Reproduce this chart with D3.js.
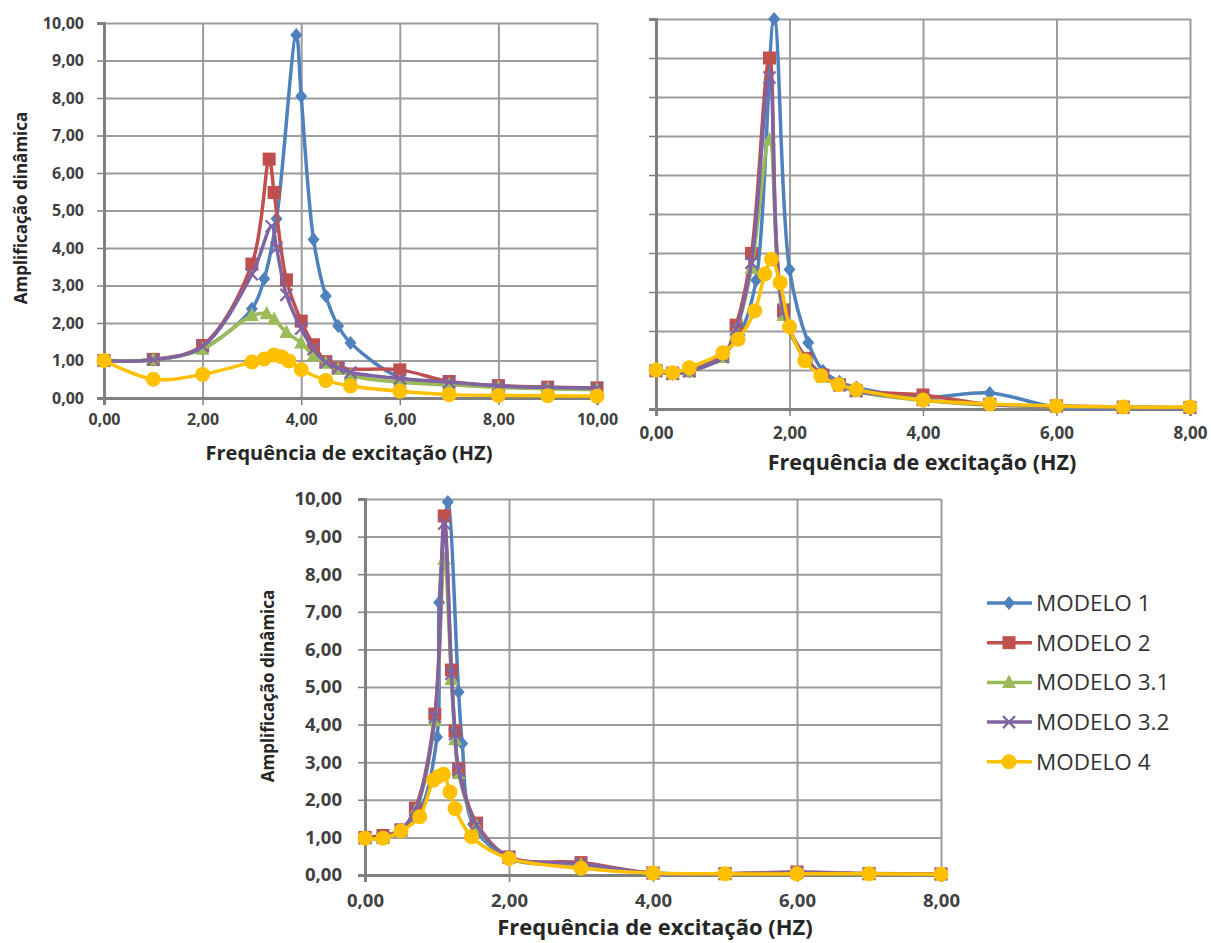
<!DOCTYPE html>
<html><head><meta charset="utf-8">
<script src="https://cdn.jsdelivr.net/npm/d3@7"></script>
<style>
body{margin:0;background:#fff;}
text{font-family:"Open Sans","Noto Sans",sans-serif;}
</style></head>
<body><svg id="c" width="1211" height="943"></svg>
<script>
// ---------- DATA ----------
const seriesNames = ["MODELO 1","MODELO 2","MODELO 3.1","MODELO 3.2","MODELO 4"];
const yTicks = [0,1,2,3,4,5,6,7,8,9,10];
const xTicksA = [0,2,4,6,8,10];
const xTicksB = [0,2,4,6,8];
const xTicksC = [0,2,4,6,8];

// Chart A (top-left)
const A_x1 = [0,1,2,3,3.25,3.5,3.9,4,4.25,4.5,4.75,5,6,7,8,9,10];
const A_y1 = [1.0,1.02,1.32,2.38,3.18,4.78,9.68,8.05,4.23,2.72,1.92,1.47,0.55,0.4,0.32,0.28,0.25];
const A_x2 = [0,1,2,3,3.35,3.45,3.7,4,4.25,4.5,4.75,6,7,8,9,10];
const A_y2 = [1.0,1.03,1.4,3.57,6.37,5.48,3.15,2.05,1.42,0.97,0.8,0.75,0.44,0.33,0.29,0.27];
const A_x31 = [0,1,2,3,3.3,3.45,3.7,4,4.25,4.5,4.75,5,6,7,8,9,10];
const A_y31 = [1.0,1.02,1.3,2.2,2.25,2.1,1.75,1.47,1.13,0.93,0.77,0.6,0.42,0.35,0.28,0.24,0.22];
const A_x32 = [0,1,2,3,3.4,3.5,3.7,4,4.25,4.5,4.75,5,6,7,8,9,10];
const A_y32 = [1.0,1.02,1.38,3.3,4.58,4.0,2.75,1.85,1.3,0.95,0.8,0.68,0.52,0.42,0.32,0.28,0.26];
const A_x4 = [0,1,2,3,3.25,3.45,3.6,3.75,4,4.5,5,6,7,8,9,10];
const A_y4 = [1.0,0.5,0.63,0.96,1.04,1.15,1.1,0.99,0.76,0.47,0.32,0.18,0.09,0.07,0.06,0.05];

// Chart B (top-right)
const B_x1 = [0,0.25,0.5,1,1.25,1.5,1.77,2,2.28,2.5,2.75,3,4,5,6,7,8];
const B_y1 = [0.98,0.9,0.97,1.4,1.9,3.3,10.0,3.58,1.7,0.98,0.7,0.55,0.3,0.41,0.05,0.03,0.03];
const B_x2 = [0,0.25,0.5,1,1.2,1.43,1.7,1.91,2.25,2.5,2.75,3,4,5,6,7,8];
const B_y2 = [0.98,0.92,0.98,1.35,2.15,3.99,9.0,2.54,1.3,0.87,0.62,0.47,0.36,0.12,0.08,0.05,0.04];
const B_x31 = [0,0.25,0.5,1,1.2,1.43,1.7,1.91,2.25,2.5,2.75,3,4,5,6,7,8];
const B_y31 = [0.98,0.9,0.97,1.32,2.0,3.6,6.9,2.4,1.25,0.82,0.6,0.45,0.22,0.1,0.06,0.04,0.03];
const B_x32 = [0,0.25,0.5,1,1.2,1.43,1.7,1.91,2.25,2.5,2.75,3,4,5,6,7,8];
const B_y32 = [0.98,0.9,0.97,1.33,2.05,3.75,8.5,2.5,1.28,0.84,0.61,0.46,0.24,0.11,0.07,0.04,0.03];
const B_x4 = [0,0.25,0.5,1,1.23,1.48,1.63,1.73,1.86,2,2.23,2.47,2.73,3,4,5,6,7,8];
const B_y4 = [1.0,0.93,1.06,1.44,1.79,2.52,3.46,3.84,3.24,2.11,1.24,0.85,0.63,0.5,0.23,0.13,0.08,0.05,0.05];

// Chart C (bottom)
const C_x1 = [0,0.25,0.5,0.75,1.0,1.03,1.15,1.3,1.35,1.5,2,3,4,5,6,7,8];
const C_y1 = [0.98,1.0,1.2,1.65,3.67,7.25,9.92,4.87,3.5,1.35,0.45,0.25,0.05,0.03,0.05,0.03,0.02];
const C_x2 = [0,0.25,0.5,0.7,0.97,1.1,1.2,1.25,1.3,1.55,2,3,4,5,6,7,8];
const C_y2 = [1.0,1.05,1.2,1.78,4.28,9.55,5.45,3.83,2.83,1.38,0.48,0.33,0.05,0.04,0.08,0.04,0.03];
const C_x31 = [0,0.25,0.5,0.7,0.97,1.1,1.2,1.25,1.3,1.55,2,3,4,5,6,7,8];
const C_y31 = [0.98,0.97,1.18,1.7,4.1,8.4,5.2,3.6,2.7,1.3,0.46,0.28,0.04,0.03,0.06,0.03,0.02];
const C_x32 = [0,0.25,0.5,0.7,0.97,1.1,1.2,1.25,1.3,1.55,2,3,4,5,6,7,8];
const C_y32 = [0.98,1.0,1.2,1.72,4.2,9.35,5.35,3.75,2.78,1.33,0.47,0.3,0.05,0.03,0.07,0.03,0.02];
const C_x4 = [0,0.25,0.5,0.76,0.95,1.02,1.09,1.18,1.25,1.48,2,3,4,5,6,7,8];
const C_y4 = [0.98,0.98,1.17,1.55,2.52,2.62,2.68,2.21,1.77,1.02,0.44,0.18,0.05,0.03,0.03,0.03,0.02];

// ---------- STYLE ----------
const colors = ["#4F81BD","#C0504D","#9BBB59","#8064A2","#FFC000"];
const shapes = ["diamond","square","triangle","x","circle"];
const fmt = v => d3.format(".2f")(v).replace(".", ",");

const svg = d3.select("#c");

function marker(g, shape, color, x, y) {
  if (shape === "diamond") {
    g.append("path").attr("d", `M${x},${y-7}L${x+6},${y}L${x},${y+7}L${x-6},${y}Z`).attr("fill", color);
  } else if (shape === "square") {
    g.append("rect").attr("x", x-6.5).attr("y", y-6.5).attr("width", 13).attr("height", 13).attr("fill", color);
  } else if (shape === "triangle") {
    g.append("path").attr("d", `M${x},${y-8}L${x+7},${y+5.5}L${x-7},${y+5.5}Z`).attr("fill", color);
  } else if (shape === "x") {
    g.append("path").attr("d", `M${x-6},${y-6}L${x+6},${y+6}M${x-6},${y+6}L${x+6},${y-6}`)
      .attr("stroke", color).attr("stroke-width", 2.2).attr("fill", "none");
  } else {
    g.append("circle").attr("cx", x).attr("cy", y).attr("r", 7.5).attr("fill", color);
  }
}

function drawChart(cfg) {
  const x = d3.scaleLinear().domain([0, cfg.xMax]).range([cfg.x0, cfg.x1]);
  const y = d3.scaleLinear().domain([0, 10]).range([cfg.y0, cfg.y1]);
  const g = svg.append("g");
  // gridlines
  g.append("g").attr("transform", `translate(${cfg.x0},0)`)
    .call(d3.axisLeft(y).tickValues(yTicks).tickSize(-(cfg.x1 - cfg.x0)).tickFormat(""))
    .call(a => a.select(".domain").remove())
    .call(a => a.selectAll("line").attr("stroke", "#9c9c9c").attr("stroke-width", 2));
  g.append("g").attr("transform", `translate(0,${cfg.y0})`)
    .call(d3.axisBottom(x).tickValues(cfg.xTicks).tickSize(-(cfg.y0 - cfg.y1)).tickFormat(""))
    .call(a => a.select(".domain").remove())
    .call(a => a.selectAll("line").attr("stroke", "#9c9c9c").attr("stroke-width", 2));
  // axes
  const ya = g.append("g").attr("transform", `translate(${cfg.x0},0)`)
    .call(d3.axisLeft(y).tickValues(yTicks).tickSize(7).tickPadding(cfg.yPad).tickFormat(cfg.yLabels ? fmt : ""));
  ya.select(".domain").attr("stroke", "#808080").attr("stroke-width", 3);
  ya.selectAll("line").attr("stroke", "#808080").attr("stroke-width", 1.5);
  ya.selectAll("text").attr("font-size", cfg.tickFs).attr("font-weight", "bold").attr("fill", "#404040")
    .style("font-family", "'Open Sans',sans-serif");
  const xa = g.append("g").attr("transform", `translate(0,${cfg.y0})`)
    .call(d3.axisBottom(x).tickValues(cfg.xTicks).tickSize(7).tickPadding(cfg.xPad).tickFormat(fmt));
  xa.select(".domain").attr("stroke", "#808080").attr("stroke-width", 3);
  xa.selectAll("line").attr("stroke", "#808080").attr("stroke-width", 1.5);
  xa.selectAll("text").attr("font-size", cfg.tickFs).attr("font-weight", "bold").attr("fill", "#404040")
    .style("font-family", "'Open Sans',sans-serif");
  // titles
  g.append("text").attr("x", cfg.xtX).attr("y", cfg.xtY)
    .attr("text-anchor", "middle").attr("font-size", cfg.xtFs).attr("font-weight", "bold").attr("fill", "#262626")
    .text("Frequência de excitação (HZ)");
  if (cfg.ytX) {
    g.append("text").attr("transform", `translate(${cfg.ytX},${cfg.ytY}) rotate(-90)`)
      .attr("text-anchor", "middle").attr("font-size", 17).attr("font-weight", "bold").attr("fill", "#262626")
      .text("Amplificação dinâmica");
  }
  // series
  const line = d3.line().x(d => x(d[0])).y(d => y(d[1])).curve(d3.curveCatmullRom.alpha(0.5));
  cfg.series.forEach((s, i) => {
    const pts = s[0].map((v, k) => [v, s[1][k]]);
    const sg = g.append("g");
    sg.append("path").attr("d", line(pts)).attr("fill", "none").attr("stroke", colors[i])
      .attr("stroke-width", 3.5).attr("stroke-linejoin", "round");
    pts.forEach(p => marker(sg, shapes[i], colors[i], x(p[0]), y(p[1])));
  });
}

drawChart({x0:104, x1:597, y0:398, y1:23, xMax:10, xTicks:xTicksA, yLabels:true,
  tickFs:16, yPad:13, xPad:9, xtX:349, xtY:460, xtFs:20, ytX:27, ytY:208,
  series:[[A_x1,A_y1],[A_x2,A_y2],[A_x31,A_y31],[A_x32,A_y32],[A_x4,A_y4]]});
drawChart({x0:656, x1:1190, y0:409, y1:19, xMax:8, xTicks:xTicksB, yLabels:false,
  tickFs:17, yPad:13, xPad:11, xtX:922, xtY:470, xtFs:21.5, ytX:null,
  series:[[B_x1,B_y1],[B_x2,B_y2],[B_x31,B_y31],[B_x32,B_y32],[B_x4,B_y4]]});
drawChart({x0:365, x1:941, y0:875, y1:499, xMax:8, xTicks:xTicksC, yLabels:true,
  tickFs:18.5, yPad:16, xPad:12, xtX:655, xtY:935, xtFs:22, ytX:274, ytY:686,
  series:[[C_x1,C_y1],[C_x2,C_y2],[C_x31,C_y31],[C_x32,C_y32],[C_x4,C_y4]]});

// legend
const lg = svg.append("g");
seriesNames.forEach((n, i) => {
  const yy = 603 + i * 39.7;
  lg.append("line").attr("x1", 987).attr("x2", 1032).attr("y1", yy).attr("y2", yy)
    .attr("stroke", colors[i]).attr("stroke-width", 3.5);
  marker(lg, shapes[i], colors[i], 1009, yy);
  lg.append("text").attr("x", 1036).attr("y", yy + 8).attr("font-size", 22.5).attr("fill", "#333")
    .text(n);
});
</script></body></html>
